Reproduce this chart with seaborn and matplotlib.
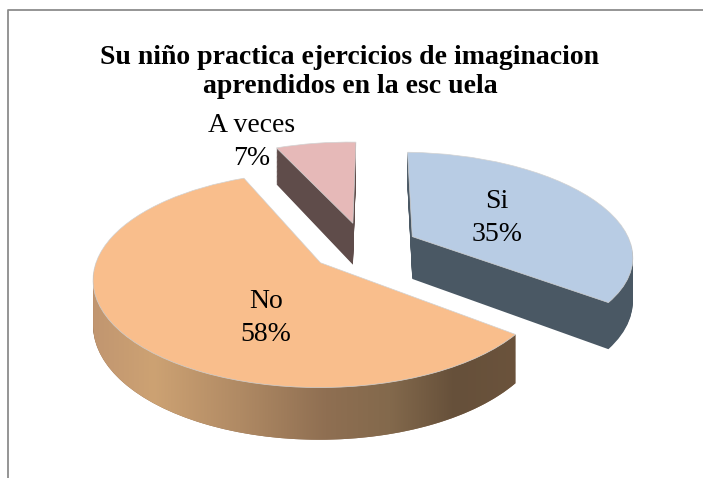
import numpy as np
import matplotlib
matplotlib.use("Agg")
import matplotlib.pyplot as plt
import seaborn as sns
from matplotlib.colors import LinearSegmentedColormap
from matplotlib.lines import Line2D
from matplotlib.patches import Polygon
from matplotlib.transforms import Transform

labels = ["Si", "No", "A veces"]
values = [35, 58, 7]
top_colors = ["#B8CCE4", "#F9BE8C", "#E6B9B8"]
wall_colors = ["#4A5864", "#8F6F52", "#5F4C4A"]
title = "Su niño practica ejercicios de imaginacion\naprendidos en la esc uela"
label_xy = [(497, 218), (266, 318), (252, 142)]

sns.set_theme(style="white")
plt.rcParams["font.family"] = ["Liberation Serif", "DejaVu Serif"]

W, H = 703, 478
X0, Y0, A, B, P, S = 320.0, 263.0, 224.5, 105.3, 0.157, 1.0
DEPTH = 44


class Perspective(Transform):
    input_dims = output_dims = 2
    is_affine = False
    has_inverse = False

    def __init__(self, drop=0.0):
        super().__init__()
        self.drop = drop

    def transform_non_affine(self, xy):
        xy = np.asarray(xy, float)
        w = 1 + P * xy[:, 1]
        return np.column_stack((X0 + (A * xy[:, 0] + S * xy[:, 1]) / w,
                                Y0 + (self.drop - B * xy[:, 1]) / w))


fig = plt.figure(figsize=(W / 100, H / 100), dpi=100, facecolor="white")
ax = fig.add_axes([0, 0, 1, 1])
pie_args = dict(explode=[0.25] * 3, startangle=88, counterclock=False,
                center=(0.2, 0.155), radius=1)

# side walls: the same pie repeated, one pixel lower each time
for drop in range(DEPTH, 0, -1):
    tr = Perspective(drop)
    wedges, _ = ax.pie(values, colors=wall_colors, wedgeprops=dict(linewidth=0), **pie_args)
    for w in wedges:
        w.set_transform(tr + ax.transData)
        w.set_zorder(1)

# top faces
tops, _ = ax.pie(values, colors=sns.color_palette(top_colors),
                 wedgeprops=dict(linewidth=0.5, edgecolor="#D2D2D2"), **pie_args)
top_tr = Perspective(0)
for w in tops:
    w.set_transform(top_tr + ax.transData)
    w.set_zorder(3)

# gradient on the outer wall of the largest slice (front part of the arc only)
no = tops[1]
th = np.radians(np.linspace(no.theta1, no.theta2, 300))
arc = np.column_stack((no.center[0] + no.r * np.cos(th), no.center[1] + no.r * np.sin(th)))
upper = Perspective(0).transform_non_affine(arc)
lower = Perspective(DEPTH).transform_non_affine(arc)
left = int(np.argmin(upper[:, 0]))
clip = Polygon(np.vstack((upper[left:], lower[left:][::-1])), closed=True,
               transform=ax.transData, facecolor="none", edgecolor="none")
ax.add_patch(clip)
cmap = LinearSegmentedColormap.from_list("wall", [
    (0.0, "#C09570"), (0.15, "#CDA273"), (0.35, "#B08A64"), (0.55, "#8F6F52"),
    (0.7, "#83694C"), (0.85, "#66503A"), (1.0, "#6B533C")])
im = ax.imshow(np.linspace(0, 1, 256)[None, :], cmap=cmap, aspect="auto",
               extent=(88, 520, 445, 270), zorder=2)
im.set_clip_path(clip)

ax.set_aspect("auto")
ax.set_xlim(0, W)
ax.set_ylim(H, 0)
ax.axis("off")

for lab, val, (x, y) in zip(labels, values, label_xy):
    ax.text(x, y, f"{lab}\n{val}%", ha="center", va="center", fontsize=20,
            linespacing=1.38, color="black", zorder=5)

ax.text(350, 72, title, ha="center", va="center", fontsize=20, fontweight="bold",
        linespacing=1.24, color="black", zorder=5)

fig.add_artist(Line2D([8 / W, 8 / W, 1], [0, 1 - 10 / H, 1 - 10 / H],
                      transform=fig.transFigure, color="#8C8C8C", lw=1.3))
fig.savefig("out.png", dpi=100)
